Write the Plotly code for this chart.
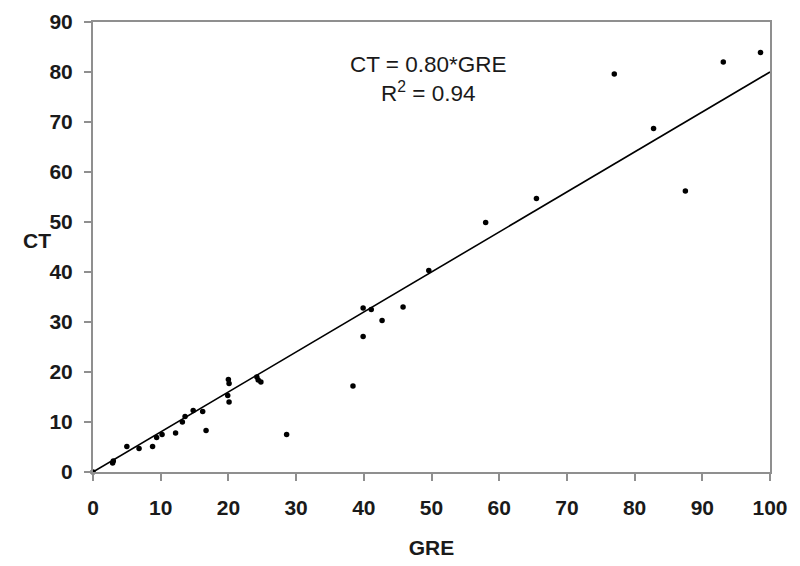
import plotly.graph_objects as go

gre = [0, 2.9, 3.0, 5.0, 6.8, 8.8, 9.4, 10.2, 12.2, 13.2, 13.6, 14.8, 16.2, 16.7,
       19.9, 20.1, 20.0, 20.1, 24.2, 24.4, 24.8, 28.6, 38.4, 39.9, 39.9, 41.1,
       42.7, 45.8, 49.6, 58.0, 65.5, 77.0, 82.8, 87.5, 93.1, 98.6]
ct = [0, 1.8, 2.2, 5.1, 4.7, 5.1, 6.9, 7.5, 7.8, 10.0, 11.1, 12.3, 12.1, 8.3,
      15.3, 14.0, 18.5, 17.7, 19.0, 18.4, 18.0, 7.5, 17.2, 32.8, 27.1, 32.5,
      30.3, 33.0, 40.3, 49.9, 54.7, 79.6, 68.7, 56.2, 82.0, 83.9]

slope = 0.80
r_squared = 0.94
fit_x = [0, 100]
fit_y = [slope * v for v in fit_x]

x_ticks = list(range(0, 101, 10))
y_ticks = list(range(0, 91, 10))

FONT = "Liberation Sans"
TEXT = "#1a1a1a"
AXIS_GREY = "#8f8f8f"

fig = go.Figure()

fig.add_trace(go.Scatter(
    x=fit_x, y=fit_y, mode="lines",
    line=dict(color="black", width=1.6),
    hoverinfo="skip", cliponaxis=False,
))
fig.add_trace(go.Scatter(
    x=gre, y=ct, mode="markers",
    marker=dict(color="black", size=5.5),
    cliponaxis=False,
))

axis_common = dict(
    showgrid=False, zeroline=False, automargin=False,
    showline=True, linecolor=AXIS_GREY, linewidth=2, mirror=True,
    ticks="outside", ticklen=7, tickcolor=AXIS_GREY, tickwidth=1.5,
    tickfont=dict(family=FONT, size=21, color=TEXT, weight="bold"),
)

fig.update_xaxes(range=[0, 100], tickvals=x_ticks, ticklabelstandoff=9,
                 title=dict(text="GRE", standoff=22,
                            font=dict(family=FONT, size=21, color=TEXT, weight="bold")),
                 **axis_common)
fig.update_yaxes(range=[0, 90], tickvals=y_ticks, ticklabelstandoff=7, **axis_common)

# y title is horizontal in the reference, so draw it as an annotation
fig.add_annotation(text="<b>CT</b>", xref="paper", yref="paper", x=-0.083, y=0.514,
                   showarrow=False, xanchor="center", yanchor="middle",
                   font=dict(family=FONT, size=21, color=TEXT))

fig.add_annotation(text=f"CT = {slope:.2f}*GRE<br>R<sup>2</sup> = {r_squared:.2f}",
                   x=49.5, y=78.7, xref="x", yref="y", showarrow=False,
                   align="center", yanchor="middle",
                   font=dict(family=FONT, size=22.5, color=TEXT))

# page body adds ~8px offset, margins are trimmed to compensate
fig.update_layout(
    width=800, height=566,
    margin=dict(l=85, r=38, t=14, b=102),
    paper_bgcolor="white", plot_bgcolor="white",
    showlegend=False,
)

fig.write_html("out.html")
